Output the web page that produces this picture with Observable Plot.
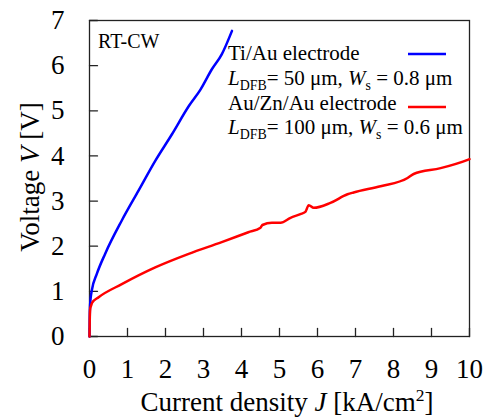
<!DOCTYPE html>
<html>
<head>
<meta charset="utf-8">
<script src="https://cdn.jsdelivr.net/npm/d3@7"></script>
<script src="https://cdn.jsdelivr.net/npm/@observablehq/plot@0.6"></script>
<style>
  html, body { margin: 0; padding: 0; background: #fff; }
  #chart { width: 487px; height: 420px; }
</style>
</head>
<body>
<div id="chart"></div>
<script>
// Ti/Au electrode (blue)
const blueJ = [0, 0.005, 0.01, 0.02, 0.03, 0.06, 0.19, 0.41, 0.85, 1.29, 1.73, 2.17, 2.61, 2.92, 3.22, 3.48, 3.75];
const blueV = [0, 0.35, 0.6, 0.75, 0.85, 1.02, 1.38, 1.83, 2.57, 3.23, 3.89, 4.48, 5.10, 5.47, 5.92, 6.25, 6.77];
// Au/Zn/Au electrode (red)
const redJ = [0, 0.005, 0.01, 0.02, 0.04, 0.07, 0.24, 0.85, 1.73, 2.61, 3.48, 4.18, 4.5, 4.55, 4.8, 5.03, 5.29, 5.55, 5.68, 5.77, 5.9, 6.34, 6.79, 6.95, 7.66, 8.37, 8.53, 9.24, 9.97, 10];
const redV = [0, 0.3, 0.5, 0.62, 0.68, 0.75, 0.87, 1.16, 1.53, 1.83, 2.09, 2.31, 2.41, 2.47, 2.52, 2.52, 2.63, 2.71, 2.76, 2.91, 2.85, 2.96, 3.15, 3.19, 3.33, 3.51, 3.6, 3.73, 3.92, 3.93];
const xTicks = [0, 1, 2, 3, 4, 5, 6, 7, 8, 9, 10];
const yTicks = [0, 1, 2, 3, 4, 5, 6, 7];

const blue = blueJ.map((j, i) => ({J: j, V: blueV[i]}));
const red = redJ.map((j, i) => ({J: j, V: redV[i]}));

const font = "'Liberation Serif', 'Times New Roman', 'DejaVu Serif', serif";
const tickShape = {draw(context, l) { context.moveTo(0, 0); context.lineTo(0, -l); }};

const plot = Plot.plot({
  width: 487,
  height: 420,
  marginLeft: 89,
  marginRight: 18,
  marginTop: 20,
  marginBottom: 84,
  style: {fontFamily: font, background: "#fff", color: "#000"},
  x: {domain: [0, 10]},
  y: {domain: [0, 7]},
  marks: [
    Plot.axisX(xTicks, {tickSize: 0, tickPadding: 22, fontSize: 27, label: null, fontFamily: font}),
    Plot.axisY(yTicks, {tickSize: 0, tickPadding: 25, fontSize: 27, label: null, fontFamily: font}),
    Plot.vector(xTicks, {x: d => d, y: 0, length: 8, rotate: 0, anchor: "start", shape: tickShape, stroke: "#222", strokeWidth: 1.3}),
    Plot.vector(yTicks, {x: 0, y: d => d, length: 8, rotate: 90, anchor: "start", shape: tickShape, stroke: "#222", strokeWidth: 1.3}),
    Plot.frame({stroke: "#222", strokeWidth: 1.3}),
    Plot.line(blue, {x: "J", y: "V", stroke: "#0000ff", strokeWidth: 2.5, curve: "monotone-x"}),
    Plot.line(red, {x: "J", y: "V", stroke: "#ff0000", strokeWidth: 2.5, curve: "monotone-x"})
  ]
});
document.getElementById("chart").appendChild(plot);

const svg = d3.select(plot);

function addText(x, y, parts, size, opts = {}) {
  const t = svg.append("text")
    .attr("x", x).attr("y", y)
    .attr("text-anchor", opts.anchor || "start")
    .style("font-family", font)
    .style("font-size", size + "px")
    .attr("fill", "#000");
  if (opts.transform) t.attr("transform", opts.transform);
  for (const p of parts) {
    const s = t.append("tspan").text(p.t);
    if (p.i) s.style("font-style", "italic");
    if (p.sub) s.style("font-size", (size * 0.66) + "px").attr("dy", size * 0.22);
    if (p.sup) s.style("font-size", (size * 0.65) + "px").attr("dy", -size * 0.38);
    if (p.back) s.attr("dy", p.back);
  }
  return t;
}

// RT-CW
addText(98, 48, [{t: "RT-CW"}], 20);

// Legend
const sd = -21 * 0.22;
addText(228, 60, [{t: "Ti/Au electrode"}], 21);
addText(228, 85, [{t: "L", i: true}, {t: "DFB", sub: true}, {t: "= 50 μm, ", back: sd}, {t: "W", i: true}, {t: "s", sub: true}, {t: " = 0.8 μm", back: sd}], 21);
addText(228, 110, [{t: "Au/Zn/Au electrode"}], 21);
addText(228, 134, [{t: "L", i: true}, {t: "DFB", sub: true}, {t: "= 100 μm, ", back: sd}, {t: "W", i: true}, {t: "s", sub: true}, {t: " = 0.6 μm", back: sd}], 21);

svg.append("line").attr("x1", 408).attr("x2", 446).attr("y1", 54).attr("y2", 54)
  .attr("stroke", "#0000ff").attr("stroke-width", 2.5);
svg.append("line").attr("x1", 408).attr("x2", 446).attr("y1", 107).attr("y2", 107)
  .attr("stroke", "#ff0000").attr("stroke-width", 2.5);

// Axis labels
addText(287, 411, [{t: "Current density "}, {t: "J", i: true}, {t: " [kA/cm"}, {t: "2", sup: true}, {t: "]", back: 27 * 0.38}], 27, {anchor: "middle"});
addText(0, 0, [{t: "Voltage "}, {t: "V", i: true}, {t: " [V]"}], 27, {anchor: "middle", transform: "translate(39,177) rotate(-90)"});
</script>
</body>
</html>
